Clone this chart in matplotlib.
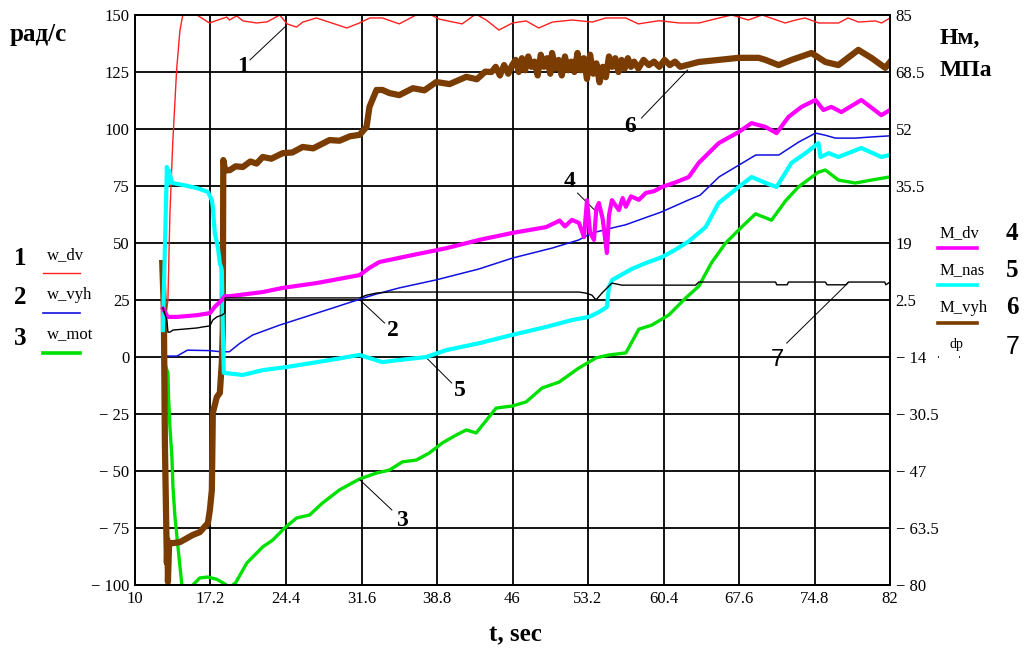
import numpy as np
import matplotlib
matplotlib.use("Agg")
from matplotlib import pyplot as plt
from matplotlib.lines import Line2D

# left axis, rad/s : (t, value)
w_dv = [(13.0, 20), (13.14, 25), (13.33, 63), (13.6, 94), (13.97, 126), (14.28, 143), (14.57, 150.4),
        (15.0, 155), (15.8, 152), (15.9, 150.0), (17.1, 146.5), (17.9, 147.8), (18.75, 149.1), (19.0, 147.8),
        (19.7, 149.6), (20.3, 147.4), (21.6, 146.5), (22.6, 147.0), (23.8, 150.0), (24.5, 146.1),
        (25.4, 144.7), (26.0, 146.9), (27.3, 148.7), (28.5, 146.9), (30.2, 144.3), (31.4, 146.5),
        (32.4, 148.7), (33.6, 148.7), (35.2, 146.1), (36.8, 150.0), (38.1, 150.4), (39.0, 148.2),
        (41.2, 146.1), (42.5, 150.4), (43.5, 147.8), (44.7, 143.4), (46.0, 146.5), (47.3, 147.4),
        (48.5, 144.3), (49.8, 146.9), (51.7, 147.8), (53.6, 146.9), (54.9, 148.7), (56.8, 148.7),
        (58.0, 146.1), (60.0, 147.5), (61.9, 146.5), (63.8, 146.5), (65.7, 148.7), (66.9, 150.0),
        (68.5, 147.8), (69.8, 150.0), (72.0, 146.5), (73.0, 147.8), (73.9, 148.7), (75.2, 146.5),
        (77.1, 146.5), (78.0, 148.7), (79.0, 146.9), (80.6, 147.4), (81.2, 146.5), (82.0, 148.7)]

w_vyh = [(13.0, 0.4), (14.0, 0.4), (15.0, 3.0), (17.1, 2.8), (18.2, 2.3), (19.0, 2.3), (20.0, 6.0),
         (21.2, 9.6), (23.8, 14.0), (26.3, 17.7), (29.2, 22.0), (31.4, 25.3), (33.0, 27.6), (35.2, 30.3),
         (38.7, 33.8), (42.8, 38.6), (46.0, 43.4), (49.8, 47.8), (52.3, 51.3), (53.6, 54.4), (55.5, 56.6),
         (56.8, 58.0), (58.0, 60.0), (60.2, 63.6), (62.8, 68.9), (63.9, 71.0), (65.7, 79.0), (67.6, 84.2),
         (69.2, 88.6), (71.4, 88.6), (73.3, 94.3), (74.9, 98.2), (75.8, 97.3), (76.8, 96.0), (78.7, 96.0),
         (80.2, 96.5), (82.0, 97.0)]

w_mot = [(12.66, -0.4), (13.14, -7), (13.2, -17.5), (13.33, -30.7), (13.52, -43.9), (13.62, -57),
         (13.81, -70), (14.09, -83), (14.47, -100), (14.95, -106), (15.52, -100), (16.18, -96.9),
         (16.95, -96.5), (17.8, -97.5), (18.37, -99), (19.04, -101), (19.6, -99), (20.66, -90.4),
         (22.18, -83.3), (23.13, -80.3), (24.27, -75), (25.41, -70.6), (26.65, -69.3), (27.89, -64),
         (29.5, -58.3), (31.41, -53.5), (33.03, -50.9), (34.26, -49.6), (35.5, -46), (36.83, -45.2),
         (38.07, -42.1), (39.31, -37.7), (40.64, -34.2), (41.59, -32), (42.54, -33.3), (44.44, -22.4),
         (45.97, -21.5), (47.3, -19.7), (48.82, -13.6), (50.44, -11), (52.34, -4.8), (53.96, -0.4),
         (55.2, 0.9), (56.81, 1.8), (58.05, 12.2), (59.29, 14), (60.9, 18.4), (62.52, 25.9),
         (63.76, 31), (65.0, 41.5), (66.33, 50), (67.85, 57), (69.18, 62.8), (70.7, 60), (72.04, 68.5),
         (73.27, 74.6), (75.18, 81.1), (75.84, 82), (77.08, 77.6), (78.7, 76.3), (80.22, 77.6), (82.0, 79)]

# right axis, Nm / MPa : (t, value)
M_dv = [(12.66, 0.0), (13.14, -2.4), (14.0, -2.4), (15.9, -1.9), (17.14, -1.3), (17.6, 0.5), (18.28, 2.5),
        (18.56, 3.6), (19.04, 3.6), (22.18, 4.8), (24.08, 6.0), (27.32, 7.4), (31.41, 9.7), (32.36, 11.8),
        (33.31, 13.5), (34.26, 14.1), (36.45, 15.5), (39.69, 17.5), (42.83, 19.9), (45.97, 21.9),
        (49.2, 23.6), (50.5, 25.5), (51.0, 23.8), (51.67, 25.7), (52.34, 24.8), (52.82, 20.7), (53.1, 31.4),
        (53.4, 22), (53.77, 19.9), (54.0, 29), (54.24, 30.6), (54.6, 26), (55.0, 16.1), (55.2, 27),
        (55.48, 31.4), (56.15, 28.5), (56.5, 32), (56.81, 29.5), (57.3, 32.5), (58.05, 31.5), (58.72, 33.5),
        (59.5, 34), (60.24, 35.2), (61.5, 36.5), (62.81, 38.1), (63.76, 42.2), (65.66, 47.9), (67.56, 51.1),
        (68.8, 53.7), (70.13, 52.6), (71.18, 50.8), (72.32, 55.5), (73.56, 58.4), (74.89, 60.4),
        (75.65, 57.5), (76.41, 58.4), (77.36, 56.9), (79.27, 60.4), (81.17, 56.0), (82.0, 57.5)]

M_nas = [(12.66, -6.2), (12.95, 30), (13.04, 41.0), (13.14, 36), (13.25, 40), (13.52, 36.4), (14.57, 35.8),
         (15.9, 34.9), (16.95, 33.8), (17.33, 31.4), (17.42, 29.4), (17.61, 21.9), (17.9, 17.8),
         (18.09, 13.2), (18.28, 11.2), (18.4, -10.0), (18.47, -18.6), (20.28, -19.2), (22.18, -17.8),
         (24.46, -16.9), (28.55, -14.9), (31.41, -13.4), (32.36, -14.3), (33.6, -15.5), (34.26, -15.2),
         (37.78, -14.0), (39.69, -12.0), (42.83, -10.0), (45.97, -7.6), (49.2, -5.3), (51.67, -3.3),
         (53.29, -2.4), (54.24, -1.0), (55.0, 0.5), (55.2, 6.3), (55.5, 8.3), (55.86, 8.9), (57.38, 11.5),
         (58.72, 13.2), (60.24, 14.9), (61.5, 17.0), (62.81, 19.5), (64.42, 23.6), (65.66, 30.6),
         (67.56, 35.2), (68.8, 38.1), (70.13, 36.4), (71.18, 35.2), (72.61, 42.2), (73.94, 45.0),
         (75.18, 47.9), (75.37, 43.9), (76.16, 45.0), (77.08, 43.9), (79.27, 46.5), (81.17, 43.9), (82.0, 44.5)]

M_vyh = [(12.6, 13.2), (12.75, 0), (12.85, -38.9), (13.04, -73.6), (13.1, -67), (13.14, -79.1), (13.25, -68),
         (13.33, -67.9), (13.52, -67.9), (14.28, -67.6), (15.52, -65.5), (16.18, -64.7), (16.95, -62.1),
         (17.14, -58.3), (17.33, -52.5), (17.42, -30.2), (17.8, -25.6), (18.09, -24.4), (18.28, -15.7),
         (18.37, -6.2), (18.42, 43.0), (18.6, 40.0), (19.04, 40.1), (19.6, 41.2), (20.28, 41.0), (21.0, 42.6),
         (21.6, 42.0), (22.18, 43.9), (23.0, 43.4), (24.08, 45.0), (25.0, 45.2), (25.99, 46.8), (27.0, 46.4),
         (28.55, 48.8), (29.5, 48.6), (30.5, 49.9), (31.41, 50.3), (32.08, 52.6), (32.36, 58.4),
         (33.03, 63.3), (33.6, 63.3), (34.26, 62.4), (35.2, 61.8), (36.5, 63.8), (37.6, 63.2), (38.73, 65.6),
         (40.0, 65.0), (41.59, 67.1), (42.6, 66.4), (43.4, 68.6), (44.0, 68.5), (44.4, 70), (44.8, 67.5),
         (45.2, 70.5), (45.6, 68), (45.97, 70.5), (46.3, 72), (46.6, 68.5), (46.9, 72.5), (47.2, 69),
         (47.5, 73), (47.8, 70), (48.1, 71.5), (48.4, 67.5), (48.7, 73.5), (49.0, 70), (49.3, 72.5),
         (49.6, 68), (49.77, 74), (50.1, 69.5), (50.4, 72), (50.7, 67.5), (51.0, 73), (51.3, 69),
         (51.6, 71.5), (51.9, 68.5), (52.2, 74), (52.5, 69), (52.8, 72.5), (53.1, 66.5), (53.4, 73.5),
         (53.7, 68), (54.0, 71), (54.3, 65.5), (54.6, 70), (54.9, 67), (55.2, 73), (55.5, 70), (55.8, 72.5),
         (56.1, 68.5), (56.4, 72), (56.7, 69.5), (57.0, 72.5), (57.3, 70), (57.6, 71.5), (58.0, 69.5),
         (58.5, 72), (59.0, 70.5), (59.5, 71.5), (60.0, 70), (60.5, 72), (61.0, 70.5), (61.5, 71.5),
         (62.0, 70), (63.76, 71.4), (65.66, 72.0), (67.56, 72.6), (69.47, 72.6), (70.13, 72.0),
         (71.37, 70.5), (72.61, 72.0), (74.51, 74.0), (75.84, 71.4), (77.08, 70.5), (78.98, 74.9),
         (80.22, 72.6), (81.55, 69.7), (82.0, 71.4)]

dp = [(12.66, 0.2), (13.04, -3.3), (13.14, -6.8), (13.33, -6.8), (13.62, -6.2), (15.9, -5.6), (16.47, -5.3),
      (17.14, -5.0), (17.42, -3.3), (17.8, -2.4), (18.28, -1.9), (18.56, -1.3), (18.6, 3.1), (27.6, 3.1),
      (31.41, 3.1), (32.08, 3.9), (33.03, 4.5), (34.26, 4.8), (52.34, 4.8), (53.0, 4.5), (53.58, 3.9),
      (53.96, 2.5), (54.53, 4.5), (55.48, 7.4), (56.43, 6.8), (60.24, 6.8), (63.47, 6.8), (63.76, 7.7),
      (71.09, 7.7), (71.2, 6.9), (72.2, 6.9), (72.32, 7.7), (75.84, 7.7), (76.0, 6.9), (77.8, 6.9),
      (78.03, 7.7), (81.5, 7.7), (81.6, 6.9), (82.0, 7.7)]

x_ticks = [10, 17.2, 24.4, 31.6, 38.8, 46, 53.2, 60.4, 67.6, 74.8, 82]
left_ticks = [150, 125, 100, 75, 50, 25, 0, -25, -50, -75, -100]
right_ticks = [85, 68.5, 52, 35.5, 19, 2.5, -14, -30.5, -47, -63.5, -80]

# curve number labels: (text, label x, label y, leader start, leader end) in left axis units
callouts = [("1", 20.3, 127.2, (20.96, 130.3), (24.4, 145.2)),
            ("2", 34.6, 11.8, (33.8, 14.9), (31.45, 25.0)),
            ("3", 35.45, -71.5, (34.5, -67.1), (31.45, -53.9)),
            ("4", 51.47, 76.8, (52.2, 71.9), (54.1, 63.2)),
            ("5", 41.0, -14.5, (40.2, -11.4), (37.8, -0.4)),
            ("6", 57.2, 100.9, (58.3, 104.8), (62.7, 125.9)),
            ("7", 71.3, -1.3, (72.15, 6.1), (78.0, 32.5))]

left_legend = [("1", "w_dv", "#ff2020", 1.0), ("2", "w_vyh", "#1010e0", 1.2), ("3", "w_mot", "#00e000", 2.6)]
right_legend = [("4", "M_dv", "#ff00ff", 2.6), ("5", "M_nas", "#00ffff", 2.6), ("6", "M_vyh", "#7a3c00", 2.6)]

serif = "Liberation Serif"
W, H = 1024, 654


def fmt(v):
    s = "%g" % abs(v)
    return ("\u2212 " + s) if v < 0 else s


def xy(c):
    a = np.array(c, dtype=float)
    return a[:, 0], a[:, 1]


def fx(px):
    return px / W


def fy(py):
    return 1 - py / H


fig = plt.figure(figsize=(W / 100, H / 100), dpi=100)
ax = fig.add_axes([fx(135), fy(585), (890 - 135) / W, 570 / H])
ax2 = ax.twinx()

ax.set_xlim(10, 82)
ax.set_ylim(-100, 150)
ax2.set_ylim(-80, 85)

ax.set_xticks(x_ticks)
ax.set_xticklabels([fmt(v) for v in x_ticks], fontfamily=serif, fontsize=12)
ax.set_yticks(left_ticks)
ax.set_yticklabels([fmt(v) for v in left_ticks], fontfamily=serif, fontsize=12)
ax2.set_yticks(right_ticks)
ax2.set_yticklabels([fmt(v) for v in right_ticks], fontfamily=serif, fontsize=12)
ax.tick_params(length=0, pad=4)
ax2.tick_params(length=0, pad=4)

ax.grid(True, color="black", lw=1.3)
for a in (ax, ax2):
    for s in a.spines.values():
        s.set_linewidth(1.3)

ax.plot(*xy(w_dv), color="#ff2020", lw=1.0)
ax.plot(*xy(w_vyh), color="#1010e0", lw=1.1)
ax.plot(*xy(w_mot), color="#00e000", lw=2.4)

for c, tx, ty, p0, p1 in callouts:
    if c == "7":
        ax.text(tx, ty, c, fontfamily="Liberation Sans", fontsize=17, ha="center", va="center")
    else:
        ax.text(tx, ty, c, fontfamily=serif, fontweight="bold", fontsize=17, ha="center", va="center")
    ax.plot([p0[0], p1[0]], [p0[1], p1[1]], color="black", lw=0.7)

ax2.plot(*xy(M_vyh), color="#7a3c00", lw=4.5)
ax2.plot(*xy(M_nas), color="#00ffff", lw=3.0)
ax2.plot(*xy(M_dv), color="#ff00ff", lw=3.0)
ax2.plot(*xy(dp), color="black", lw=1.0)

# axis titles
fig.text(fx(10), fy(35), "рад/с", fontfamily=serif, fontweight="bold", fontsize=18, va="center")
fig.text(fx(940), fy(38), "Нм,", fontfamily=serif, fontweight="bold", fontsize=17, va="center")
fig.text(fx(940), fy(70), "МПа", fontfamily=serif, fontweight="bold", fontsize=17, va="center")
fig.text(fx(515), fy(635), "t, sec", fontfamily=serif, fontweight="bold", fontsize=18, ha="center", va="center")

# legends
for i, (num, name, col, lw) in enumerate(left_legend):
    y0 = 258 + i * 40
    fig.text(fx(20), fy(y0), num, fontfamily=serif, fontweight="bold", fontsize=18, ha="center", va="center")
    fig.text(fx(47), fy(y0 - 3), name, fontfamily=serif, fontsize=12, va="center")
    fig.add_artist(Line2D([fx(43), fx(80)], [fy(y0 + 15), fy(y0 + 15)], color=col, lw=lw))

for i, (num, name, col, lw) in enumerate(right_legend):
    y0 = 233 + i * 37.5
    fig.text(fx(1012), fy(y0), num, fontfamily=serif, fontweight="bold", fontsize=18, ha="center", va="center")
    fig.text(fx(940), fy(y0), name, fontfamily=serif, fontsize=12, va="center")
    fig.add_artist(Line2D([fx(938), fx(977)], [fy(y0 + 15), fy(y0 + 15)], color=col, lw=lw))

fig.text(fx(950), fy(345), "dp", fontfamily=serif, fontsize=10, va="center")
fig.text(fx(1013), fy(347), "7", fontfamily="Liberation Sans", fontsize=18, ha="center", va="center")
fig.add_artist(Line2D([fx(938), fx(976)], [fy(357), fy(357)], color="black", lw=1.2, ls=(0, (0.6, 12))))

fig.savefig("out.png", dpi=100)
